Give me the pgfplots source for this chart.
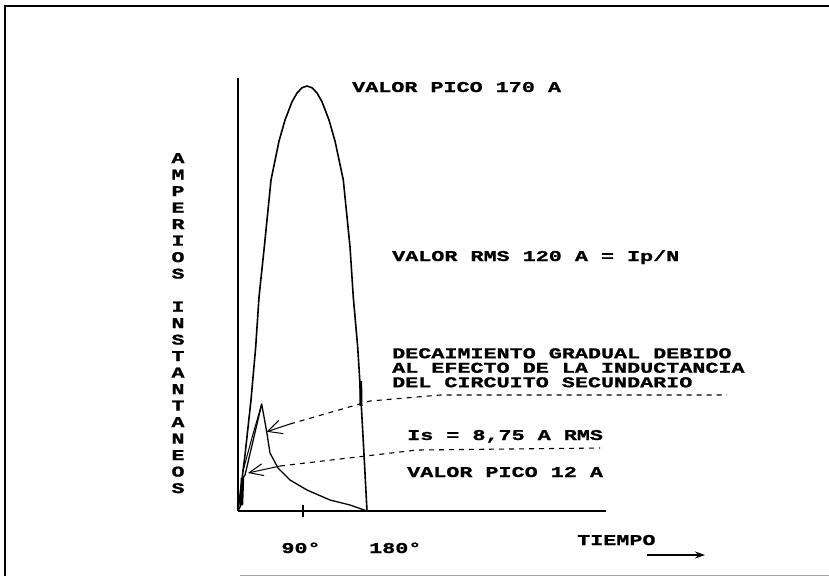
\documentclass[border=0pt]{standalone}
\usepackage{pgfplots}
\pgfplotsset{compat=1.18}
\usetikzlibrary{arrows.meta}
\usepackage{fontspec}
\setmainfont{Liberation Mono}
\newfontfamily\dotfont[FakeStretch=1.45, BoldFeatures={FakeBold=1.2}]{Liberation Mono}
\newcommand\df{\dotfont\bfseries\fontsize{15}{14.5}\selectfont}
\begin{document}
\begin{tikzpicture}[x=1pt,y=1pt]
\useasboundingbox (0,0) rectangle (829,-576);
% frame
\draw[line width=2pt] (5,-576) -- (5,-6) -- (829,-6);
\draw[line width=0.8pt, black!35] (240,-575) -- (829,-575);
\begin{axis}[at={(238pt,-511pt)}, anchor=south west,
  scale only axis, width=368pt, height=433pt,
  xmin=0, xmax=509.5, ymin=0, ymax=173.2,
  axis x line=bottom, axis y line=left,
  axis line style={line width=1.5pt,-},
  ytick=\empty, xtick={90}, xticklabels={},
  major tick length=12pt, tick align=center,
  tick style={line width=1.2pt,black},
  clip=false]
% primary current (half cycle)
\addplot[black, line width=1.6pt, line join=round] coordinates {
(0,0) (9.7,22.4) (18.0,44.4) (24.5,65.6) (29.1,85.6) (36.4,105.6) (45.7,132.4)
(56.8,148) (65.1,156.4) (74.8,163.7) (81.7,167.2) (88.6,169.3) (95.5,170)
(102.5,169.3) (109.4,167.2) (116.3,163.7) (126.0,156.4) (134.3,148)
(145.8,132.4) (155.1,105.6) (159.6,85.6) (165.7,65.6)
(170.3,44.4) (174.5,22.4) (178.6,0)};
% secondary current
\addplot[black, line width=1.3pt, line join=round] coordinates {
(0,0) (4.2,2.4) (6.9,13.2) (9.7,14.4) (32.8,42.8) (39.7,31.7) (44.3,23.2) (55.4,17.2)
(72.0,12.4) (95.5,8.4) (127.4,4.4) (155.1,2.4) (178.6,0)};
\addplot[black, line width=1pt] coordinates {(6.9,16) (20,30) (32.8,42.8)};
\addplot[black, line width=3.5pt] coordinates {(4.8,2.4) (6.2,13.2)};
\addplot[black, line width=3pt] coordinates {(169.8,52) (170.3,42)};
% annotation lines
\addplot[black, line width=1.1pt, dash pattern=on 5pt off 5pt] coordinates {(72,34.8) (182.8,44) (279.7,46.4) (677.1,46.4)};
\addplot[black, line width=1pt, -{Straight Barb[length=14pt,width=14pt]}] coordinates {(72,34.8) (39.7,31.7)};
\addplot[black, line width=1.1pt, dash pattern=on 5pt off 5pt] coordinates {(58.2,18) (247.8,24.4) (501.2,25.2)};
\addplot[black, line width=1pt, -{Straight Barb[length=14pt,width=12pt]}] coordinates {(58.2,18) (13.8,15.2)};
\end{axis}
% texts
\node[anchor=base west, inner sep=0, font=\df] at (352,-92) {VALOR PICO 170 A};
\node[anchor=base west, inner sep=0, font=\df] at (392,-261) {VALOR RMS 120 A = Ip/N};
\node[anchor=north west, inner sep=0, align=left, font=\df] at (392,-348) {DECAIMIENTO GRADUAL DEBIDO\\AL EFECTO DE LA INDUCTANCIA\\DEL CIRCUITO SECUNDARIO};
\node[anchor=base west, inner sep=0, font=\df] at (407,-440) {Is = 8,75 A RMS};
\node[anchor=base west, inner sep=0, font=\df] at (407,-477) {VALOR PICO 12 A};
\node[anchor=base, inner sep=0, font=\df] at (301,-553) {90°};
\node[anchor=base west, inner sep=0, font=\df] at (369,-553) {180°};
\node[anchor=base west, inner sep=0, font=\df] at (577,-545) {TIEMPO};
\draw[line width=1.3pt, -{Stealth[length=10pt,width=7pt]}] (647,-555) -- (705,-555);
\node[anchor=north, inner sep=0, align=center, font=\dotfont\bfseries\fontsize{15}{16.5}\selectfont] at (178,-153) {A\\M\\P\\E\\R\\I\\O\\S\\\mbox{}\\I\\N\\S\\T\\A\\N\\T\\A\\N\\E\\O\\S};
\end{tikzpicture}
\end{document}
